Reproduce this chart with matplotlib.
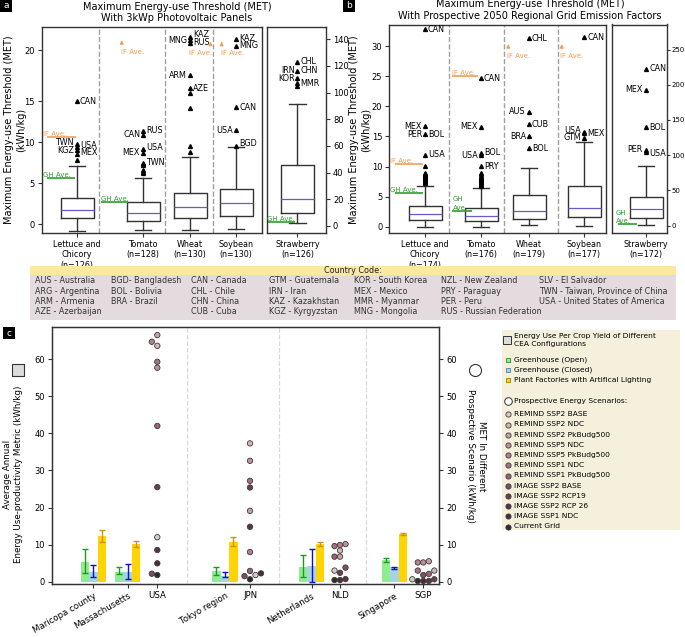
import matplotlib.pyplot as plt
from matplotlib.patches import Rectangle

W, H = 685, 637

# ---------------- panel a: MET with 3kWp PV panels ----------------
A_CROPS = ["Lettuce and\nChicory\n(n=126)", "Tomato\n(n=128)", "Wheat\n(n=130)", "Soybean\n(n=130)"]
A_LO = [-0.82, -0.66, -0.66, -0.6]
A_Q1 = [0.8, 0.44, 0.73, 1.0]
A_MED = [1.7, 1.38, 2.1, 2.56]
A_Q3 = [3.24, 2.68, 3.78, 4.34]
A_HI = [7.1, 5.6, 8.17, 9.4]
A_FLIERS = [
    [7.9, 8.57, 9.1, 9.46, 9.8, 15.0],
    [6.2, 6.4, 6.6, 7.2, 7.4, 7.5, 8.66, 9.2, 10.9, 11.4],
    [8.85, 9.6, 14.15, 15.97, 16.6, 18.2, 22.1, 22.5, 22.8],
    [9.55, 11.5, 14.3, 21.7, 22.56],
]
A_CODES = [
    [("TWN", 9.95, "l"), ("KGZ", 9.0, "l"), ("USA", 9.6, "r"), ("MEX", 8.7, "r"), ("CAN", 15.0, "r")],
    [("CAN", 11.0, "l"), ("RUS", 11.5, "r"), ("MEX", 8.7, "l"), ("USA", 9.35, "r"), ("TWN", 7.5, "r")],
    [("ARM", 18.2, "l"), ("AZE", 16.6, "r"), ("MNG", 22.45, "l"), ("KAZ", 23.1, "r"), ("RUS", 22.15, "r")],
    [("BGD", 9.8, "r"), ("USA", 11.5, "l"), ("CAN", 14.3, "r"), ("KAZ", 22.6, "r"), ("MNG", 21.8, "r")],
]
A_IF_AVE = [10.6, None, None, None]      # None -> above the axis range
A_GH_AVE = [5.7, 2.76, None, None]

A_STRAW_LABEL = "Strawberry\n(n=126)"
A_STRAW = [2.0, 10.0, 20.2, 46.0, 91.3]   # lo, q1, med, q3, hi
A_STRAW_FLIERS = [105.0, 107.0, 110.7, 116.5, 123.2]
A_STRAW_CODES = [("CHL", 123.2, "r"), ("IRN", 116.5, "l"), ("CHN", 116.5, "r"),
                 ("KOR", 110.5, "l"), ("MMR", 106.5, "r")]
A_STRAW_GH = 3.2

# ---------------- panel b: MET with 2050 grid emission factors ----------------
B_CROPS = ["Lettuce and\nChicory\n(n=174)", "Tomato\n(n=176)", "Wheat\n(n=179)", "Soybean\n(n=177)"]
B_LO = [0.0, 0.0, 0.33, 0.17]
B_Q1 = [1.16, 0.95, 1.23, 1.56]
B_MED = [2.06, 1.83, 2.6, 3.16]
B_Q3 = [3.49, 3.16, 5.27, 6.76]
B_HI = [6.76, 6.48, 9.7, 14.1]
B_FLIERS = [
    [7.3, 7.45, 7.6, 7.75, 7.9, 8.05, 8.2, 8.35, 8.5, 8.65, 8.8, 9.0, 10.08, 11.96, 15.4, 16.7, 32.8],
    [6.8, 6.95, 7.1, 7.25, 7.4, 7.55, 7.7, 7.85, 8.0, 8.15, 8.3, 8.5, 8.7, 9.0,
     10.08, 11.9, 12.3, 16.6, 24.65],
    [13.0, 15.07, 17.06, 19.1, 31.3],
    [14.7, 15.5, 15.8, 31.45],
]
B_CODES = [
    [("MEX", 16.7, "l"), ("PER", 15.4, "l"), ("BOL", 15.4, "r"), ("USA", 11.96, "r"), ("CAN", 32.8, "r")],
    [("MEX", 16.7, "l"), ("USA", 11.75, "l"), ("BOL", 12.35, "r"), ("PRY", 10.08, "r"), ("CAN", 24.65, "r")],
    [("AUS", 19.1, "l"), ("CUB", 17.06, "r"), ("BRA", 15.07, "l"), ("BOL", 13.0, "r"), ("CHL", 31.3, "r")],
    [("USA", 16.05, "l"), ("GTM", 14.8, "l"), ("MEX", 15.5, "r"), ("CAN", 31.45, "r")],
]
B_IF_AVE = [10.5, 25.0, None, None]
B_GH_AVE = [5.65, 2.66, None, None]

B_STRAW_LABEL = "Strawberry\n(n=172)"
B_STRAW = [1.4, 10.5, 23.2, 41.1, 85.0]
B_STRAW_FLIERS = [104.5, 108.0, 140.0, 193.0, 223.0]
B_STRAW_CODES = [("CAN", 223.0, "r"), ("MEX", 193.0, "l"), ("BOL", 140.0, "r"),
                 ("PER", 108.3, "l"), ("USA", 102.6, "r")]
B_STRAW_GH = 2.0

# ---------------- country codes ----------------
COUNTRY_COLUMNS = [
    ["AUS - Australia", "ARG - Argentina", "ARM - Armenia", "AZE - Azerbaijan"],
    ["BGD- Bangladesh", "BOL - Bolivia", "BRA - Brazil"],
    ["CAN - Canada", "CHL - Chile", "CHN - China", "CUB - Cuba"],
    ["GTM - Guatemala", "IRN - Iran", "KAZ - Kazakhstan", "KGZ - Kyrgyzstan"],
    ["KOR - South Korea", "MEX - Mexico", "MMR - Myanmar", "MNG - Mongolia"],
    ["NZL - New Zealand", "PRY - Paraguay", "PER - Peru", "RUS - Russian Federation"],
    ["SLV - El Salvador", "TWN - Taiwan, Province of China", "USA - United States of America"],
]

# ---------------- panel c: CEA energy use vs scenario MET ----------------
C_REGIONS = ["Maricopa county", "Massachusetts", "Tokyo region", "Netherlands", "Singapore"]
C_COUNTRIES = ["USA", "JPN", "NLD", "SGP"]
GH_OPEN = [5.4, 2.7, 2.9, 4.05, 5.85]
GH_OPEN_LO = [2.4, 2.1, 1.8, 1.2, 5.2]
GH_OPEN_HI = [8.7, 4.0, 4.0, 7.1, 6.5]
GH_CLOSED = [2.7, 2.7, 1.6, 4.3, 3.9]
GH_CLOSED_LO = [1.2, 0.6, 1.2, 0.0, 3.4]
GH_CLOSED_HI = [4.5, 4.7, 2.5, 8.8, 4.0]
PFAL = [12.3, 10.2, 10.8, 10.2, 12.9]
PFAL_LO = [10.8, 9.3, 9.6, 9.6, 12.7]
PFAL_HI = [13.9, 11.1, 12.0, 10.8, 13.0]

SCENARIOS = ["REMIND SSP2 BASE", "REMIND SSP2 NDC", "REMIND SSP2 PkBudg500", "REMIND SSP5 NDC",
             "REMIND SSP5 PkBudg500", "REMIND SSP1 NDC", "REMIND SSP1 PkBudg500", "IMAGE SSP2 BASE",
             "IMAGE SSP2 RCP19", "IMAGE SSP2 RCP 26", "IMAGE SSP1 NDC", "Current Grid"]
MET_USA = [12.0, 63.6, 66.5, 57.7, 64.7, 59.3, 42.0, 2.15, 25.5, 8.55, 4.95, 1.8]
MET_JPN = [1.8, 37.3, 19.1, 32.6, 8.0, 27.2, 2.9, 1.5, 25.4, 14.8, 2.25, 0.65]
MET_NLD = [3.0, 8.4, 6.75, 10.15, 9.9, 9.6, 6.75, 3.8, 2.4, 0.7, 0.45, 0.45]
MET_SGP = [0.65, 3.0, 5.5, 5.2, 5.2, 3.0, 2.1, 1.8, 0.65, 0.2, 0.2, 0.2]

# swarm slot of each point (dodging of overlapping markers)
SLOT_USA = [0, 0, 0, 0, -1, 0, 0, -1, 0, 0, 0, 0]
SLOT_JPN = [1, 0, 0, 0, 0, 0, 0, -1, 0, 0, 2, 0]
SLOT_NLD = [-1, 0, 0, 1, 0, -1, -1, 1, 0, 1, 0, -1]
SLOT_SGP = [-2, 2, 1, 0, -1, -1, 1, 0, 2, 1, 0, -1]

SCEN_COLORS = ["#d9cdc2", "#d3b6b1", "#c9a2a6", "#bf929b", "#b2808e", "#a57183",
               "#986377", "#7f4d61", "#6b3f53", "#5b3447", "#4a2c3c", "#2f2a2d"]

BOX_EDGE = "#333333"
MEDIAN = "#6a5acd"
IF_COLOR = "#f39c4f"
GH_COLOR = "#2e9e2e"

fig = plt.figure(figsize=(W / 100, H / 100), dpi=100)


def add_axes_px(x0, y0, x1, y1):
    # axes placed in figure pixels; x data units are figure pixels
    ax = fig.add_axes([x0 / W, 1 - y1 / H, (x1 - x0) / W, (y1 - y0) / H])
    ax.set_xlim(x0, x1)
    for sp in ax.spines.values():
        sp.set_color(BOX_EDGE)
        sp.set_linewidth(1.0)
    ax.tick_params(labelsize=6, length=3, pad=2, color=BOX_EDGE)
    return ax


def draw_boxes(ax, pos, lo, q1, med, q3, hi, fliers, width=33):
    stats = [dict(whislo=a, q1=b, med=c, q3=d, whishi=e, fliers=f)
             for a, b, c, d, e, f in zip(lo, q1, med, q3, hi, fliers)]
    ax.bxp(stats, positions=pos, widths=width, manage_ticks=False,
           boxprops=dict(color=BOX_EDGE, lw=1.0),
           whiskerprops=dict(color=BOX_EDGE, lw=1.0),
           capprops=dict(color=BOX_EDGE, lw=1.0),
           medianprops=dict(color=MEDIAN, lw=0.9),
           flierprops=dict(marker="^", ms=2.8, mfc="k", mec="k", ls="none"))


def draw_codes(ax, pos, codes):
    for p, labs in zip(pos, codes):
        for code, y, side in labs:
            if side == "r":
                ax.text(p + 3, y, code, ha="left", va="center", fontsize=5.8)
            else:
                ax.text(p - 3, y, code, ha="right", va="center", fontsize=5.8)


def ave_line(ax, x0, x1, y, text, color, tx=None):
    ax.plot([x0, x1], [y, y], color=color, lw=1.2, solid_capstyle="butt")
    ax.text(x0 if tx is None else tx, y, text, color=color, fontsize=5,
            ha="left", va="bottom", linespacing=1.5)


def ave_arrow(ax, x, y0, y1, ty, tx, ha):
    ax.annotate("", xy=(x, y1), xytext=(x, y0),
                arrowprops=dict(arrowstyle="-|>", color=IF_COLOR, lw=0.8, mutation_scale=5))
    ax.text(tx, ty, "IF Ave.", color=IF_COLOR, fontsize=5, ha=ha, va="top")


# ---------------- panel a ----------------
A_POS = [77, 143, 190, 236]
axa = add_axes_px(42, 27, 261.7, 233)
axa.set_ylim(-1.06, 24.06)
draw_boxes(axa, A_POS, A_LO, A_Q1, A_MED, A_Q3, A_HI, A_FLIERS)
draw_codes(axa, A_POS, A_CODES)
for x in [99.3, 165, 213.3]:
    axa.axvline(x, color="#a0a0a0", ls="--", lw=1.0)
axa.set_yticks([0, 5, 10, 15, 21.2])
axa.set_yticklabels(["0", "5", "10", "15", "20"])
axa.set_xticks(A_POS)
axa.set_xticklabels(A_CROPS, fontsize=5.8, linespacing=1.2)
ave_line(axa, 47, 76, A_IF_AVE[0], "IF Ave.", IF_COLOR, tx=43)
ave_line(axa, 47, 75, A_GH_AVE[0], "GH Ave.", GH_COLOR, tx=43)
ave_line(axa, 101, 128, A_GH_AVE[1], "GH Ave.", GH_COLOR)
ave_arrow(axa, 121.7, 21.66, 22.8, 21.4, 120.7, "left")
ave_arrow(axa, 210.5, 21.74, 22.6, 21.3, 212, "right")
ave_arrow(axa, 221.7, 21.74, 22.6, 21.3, 220.7, "left")

axa2 = add_axes_px(266.7, 27, 326, 233)
axa2.set_ylim(-5.25, 149.2)
draw_boxes(axa2, [297.5], [A_STRAW[0]], [A_STRAW[1]], [A_STRAW[2]], [A_STRAW[3]],
           [A_STRAW[4]], [A_STRAW_FLIERS])
draw_codes(axa2, [297.5], [A_STRAW_CODES])
axa2.yaxis.tick_right()
axa2.set_yticks(range(0, 141, 20))
axa2.set_xticks([297.5])
axa2.set_xticklabels([A_STRAW_LABEL], fontsize=5.8, linespacing=1.2)
ave_line(axa2, 268, 295, A_STRAW_GH, "GH Ave.", GH_COLOR, tx=267.5)

# ---------------- panel b ----------------
B_POS = [425, 481, 529, 584]
axb = add_axes_px(389.3, 24.5, 606, 233)
axb.set_ylim(-1.05, 33.6)
draw_boxes(axb, B_POS, B_LO, B_Q1, B_MED, B_Q3, B_HI, B_FLIERS)
draw_codes(axb, B_POS, B_CODES)
for x in [449, 504.3, 558.3]:
    axb.axvline(x, color="#a0a0a0", ls="--", lw=1.0)
axb.set_yticks(range(0, 31, 5))
axb.set_xticks(B_POS)
axb.set_xticklabels(B_CROPS, fontsize=5.8, linespacing=1.2)
ave_line(axb, 395, 423, B_IF_AVE[0], "IF Ave.", IF_COLOR, tx=390)
ave_line(axb, 395, 423, B_GH_AVE[0], "GH Ave.", GH_COLOR, tx=390.5)
ave_line(axb, 451.7, 477.7, B_IF_AVE[1], "IF Ave.", IF_COLOR)
ave_line(axb, 452, 472, B_GH_AVE[1], "GH\nAve.", GH_COLOR, tx=453)
ave_arrow(axb, 508.3, 29.2, 30.8, 28.8, 506.7, "left")
ave_arrow(axb, 561.7, 29.2, 30.8, 28.8, 560, "left")

axb2 = add_axes_px(612, 24.5, 666.5, 233)
axb2.set_ylim(-10.5, 285.6)
draw_boxes(axb2, [646], [B_STRAW[0]], [B_STRAW[1]], [B_STRAW[2]], [B_STRAW[3]],
           [B_STRAW[4]], [B_STRAW_FLIERS])
draw_codes(axb2, [646], [B_STRAW_CODES])
axb2.yaxis.tick_right()
axb2.set_yticks(range(0, 251, 50))
axb2.tick_params(axis="y", labelsize=5.0, length=2.5, pad=0.8)
axb2.set_xticks([646])
axb2.set_xticklabels([B_STRAW_LABEL], fontsize=5.8, linespacing=1.2)
ave_line(axb2, 618, 637, B_STRAW_GH, "GH\nAve.", GH_COLOR, tx=616)

# ---------------- panel c ----------------
REGION_PX = [93.3, 127.7, 225, 311.7, 394.3]
COUNTRY_PX = [157.3, 250, 340, 423.3]
BW = 8.5
axc = add_axes_px(51.7, 327.3, 439.3, 584.3)
axc.set_ylim(-0.7, 68.6)
for x in [187.5, 279.3, 365.7]:
    axc.axvline(x, color="#d9d9d9", ls="--", lw=0.9, zorder=0)

bar_sets = [
    (-BW, GH_OPEN, GH_OPEN_LO, GH_OPEN_HI, "#8fec8f", "#1f9a1f"),
    (0, GH_CLOSED, GH_CLOSED_LO, GH_CLOSED_HI, "#a6d3e6", "#1010c8"),
    (BW, PFAL, PFAL_LO, PFAL_HI, "#ffd400", "#c8961e"),
]
for off, vals, lo, hi, fc, ec in bar_sets:
    yerr = [[v - l for v, l in zip(vals, lo)], [h - v for v, h in zip(vals, hi)]]
    axc.bar([p + off for p in REGION_PX], vals, width=BW, color=fc, yerr=yerr,
            error_kw=dict(ecolor=ec, elinewidth=1.0, capsize=2, capthick=1.0), zorder=2)

for cx, vals, slots in zip(COUNTRY_PX, [MET_USA, MET_JPN, MET_NLD, MET_SGP],
                           [SLOT_USA, SLOT_JPN, SLOT_NLD, SLOT_SGP]):
    axc.scatter([cx + s * 5.5 for s in slots], vals, c=SCEN_COLORS, s=15,
                edgecolors="#3a3a3a", linewidths=0.6, zorder=3)

ticks = sorted(list(zip(REGION_PX, C_REGIONS)) + list(zip(COUNTRY_PX, C_COUNTRIES)))
axc.set_xticks([t[0] for t in ticks])
axc.set_xticklabels([t[1] for t in ticks], fontsize=6.2)
for lab in axc.get_xticklabels():
    if lab.get_text() in C_REGIONS:
        lab.set_rotation(30)
        lab.set_ha("right")
        lab.set_rotation_mode("anchor")
axc.set_yticks(range(0, 61, 10))
axc.tick_params(axis="y", labelsize=6)
axr = axc.twinx()
axr.set_ylim(axc.get_ylim())
axr.set_yticks(range(0, 61, 10))
axr.tick_params(labelsize=6, length=3, pad=2, color=BOX_EDGE)
for sp in axr.spines.values():
    sp.set_color(BOX_EDGE)

# ---------------- overlay in figure pixels ----------------
ov = fig.add_axes([0, 0, 1, 1])
ov.set_xlim(0, W)
ov.set_ylim(H, 0)
ov.axis("off")

for x, y, letter in [(0, 0, "a"), (343, 0, "b"), (3, 327, "c")]:
    ov.add_patch(Rectangle((x, y), 12, 12, fc="black", ec="none"))
    ov.text(x + 6, y + 6, letter, color="white", fontsize=6.5, ha="center", va="center")

ov.text(177, 12.5, "Maximum Energy-use Threshold (MET)\nWith 3kWp Photovoltaic Panels",
        fontsize=7, ha="center", va="center", linespacing=1.15)
ov.text(530, 10, "Maximum Energy-use Threshold (MET)\nWith Prospective 2050 Regional Grid Emission Factors",
        fontsize=7, ha="center", va="center", linespacing=1.15)
ov.text(15, 130, "Maximum Energy-use Threshold (MET)\n(kWh/kg)", fontsize=7,
        rotation=90, ha="center", va="center", linespacing=1.2)
ov.text(360, 130, "Maximum Energy-use Threshold (MET)\n(kWh/kg)", fontsize=7,
        rotation=90, ha="center", va="center", linespacing=1.2)

# country code table
ov.add_patch(Rectangle((30, 266), 646, 9, fc="#fbe8a2", ec="none"))
ov.add_patch(Rectangle((30, 275), 646, 45, fc="#e3dbde", ec="none"))
ov.text(353, 270.5, "Country Code:", fontsize=5.8, ha="center", va="center", color="#222222")
col_x = [35, 111, 190.7, 269.3, 354, 440.7, 539.3]
row_y = [280.7, 291.3, 301.3, 311.7]
for cx, col in zip(col_x, COUNTRY_COLUMNS):
    for ry, entry in zip(row_y, col):
        ov.text(cx, ry, entry, fontsize=5.8, ha="left", va="center", color="#333333")

# panel c axis labels with their symbols
ov.text(13, 474, "Average Annual\nEnergy Use-productivity Metric (kWh/kg)", fontsize=6.3,
        rotation=90, ha="center", va="center", linespacing=1.25)
ov.scatter([18], [370], marker="s", s=75, fc="#dcdcdc", ec="#333333", lw=0.8)
ov.text(476, 456, "MET In Different\nProspective Scenario (kWh/kg)", fontsize=6.3,
        rotation=270, ha="center", va="center", linespacing=1.25)
ov.scatter([475], [370], marker="o", s=75, fc="white", ec="#333333", lw=0.8)

# legend box
ov.add_patch(Rectangle((501.7, 330), 178, 200, fc="#f4f0dc", ec="none"))
ov.scatter([507], [340], marker="s", s=32, fc="#dddddd", ec="#333333", lw=0.7)
ov.text(514.3, 340, "Energy Use Per Crop Yield of Different\nCEA Configurations", fontsize=5.4,
        ha="left", va="center", linespacing=1.3)
cea = [("Greenhouse (Open)", "#8fec8f", "#1f9a1f"),
       ("Greenhouse (Closed)", "#a6d3e6", "#4a7fa8"),
       ("Plant Factories with Artifical Lighting", "#ffd400", "#a07810")]
for i, (name, fc, ec) in enumerate(cea):
    y = 360 + i * 10
    ov.scatter([507.7], [y], marker="s", s=10, fc=fc, ec=ec, lw=0.6)
    ov.text(514.3, y, name, fontsize=5.4, ha="left", va="center")
ov.scatter([507.7], [401], marker="o", s=30, fc="white", ec="#333333", lw=0.7)
ov.text(514.3, 401, "Prospective Energy Scenarios:", fontsize=5.4, ha="left", va="center")
for i, (name, col) in enumerate(zip(SCENARIOS, SCEN_COLORS)):
    y = 414.3 + i * 10.2
    ov.scatter([507.7], [y], marker="o", s=14, fc=col, ec="#3a3a3a", lw=0.6)
    ov.text(514.3, y, name, fontsize=5.4, ha="left", va="center")

fig.savefig("out.png", dpi=100)
